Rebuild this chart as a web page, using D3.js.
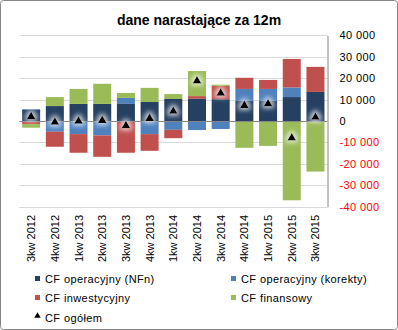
<!DOCTYPE html>
<html>
<head>
<meta charset="utf-8">
<script src="https://cdn.jsdelivr.net/npm/d3@7"></script>
<style>
  html, body { margin: 0; padding: 0; background: #fff; }
  svg { display: block; font-family: "Liberation Sans", Arial, sans-serif; }
</style>
</head>
<body>
<svg id="chart" width="398" height="330"></svg>
<script>
const categories = ["3kw 2012","4kw 2012","1kw 2013","2kw 2013","3kw 2013","4kw 2013","1kw 2014","2kw 2014","3kw 2014","4kw 2014","1kw 2015","2kw 2015","3kw 2015"];
const cfNfn     = [5200, 7000, 8000, 8000, 8000, 8900, 10300, 10400, 10200, 9400, 9400, 11200, 13600];
const cfKorekty = [400, -5000, -6100, -6700, 2800, -6100, -4100, -4200, -3700, 5600, 5600, 4500, -500];
const cfInw     = [-1400, -7000, -8700, -10000, -14800, -7800, -3900, 1250, 6200, 5200, 4200, 13300, 11700];
const cfFin     = [-1700, 4200, 7000, 9400, 2300, 6600, 2300, 11700, 600, -12500, -11600, -37000, -23100];
const cfTotal   = [2300, -300, 200, 500, -1900, 1500, 4800, 19000, 13300, 7500, 8300, -7600, 2000];
const yTicks = [40000, 30000, 20000, 10000, 0, -10000, -20000, -30000, -40000];

const seriesNames = ["CF operacyjny (NFn)", "CF operacyjny (korekty)", "CF inwestycyjny", "CF finansowy"];
const seriesColors = ["#254061", "#4F81BD", "#C0504D", "#9BBB59"];
const seriesData = [cfNfn, cfKorekty, cfInw, cfFin];

const svg = d3.select("#chart");
const plot = { left: 19.3, right: 327.3, top: 35.4, bottom: 206.7 };

// outer border
svg.append("rect").attr("x", 0.5).attr("y", 0.5).attr("width", 397).attr("height", 329)
  .attr("rx", 3).attr("fill", "#fff").attr("stroke", "#868686");

// title
svg.append("text").attr("x", 199).attr("y", 25).attr("text-anchor", "middle")
  .attr("font-size", 14).attr("font-weight", "bold").attr("fill", "#000")
  .text("dane narastające za 12m");

const x = d3.scaleBand().domain(categories).range([plot.left, plot.right])
  .paddingInner(0.24).paddingOuter(0.12);
const y = d3.scaleLinear().domain([-40000, 40000]).range([plot.bottom, plot.top]);

// gridlines
svg.append("g").selectAll("line").data(yTicks.filter(d => d !== 0)).join("line")
  .attr("x1", plot.left).attr("x2", plot.right)
  .attr("y1", d => Math.round(y(d)) + 0.5).attr("y2", d => Math.round(y(d)) + 0.5)
  .attr("stroke", "#D9D9D9").attr("stroke-width", 1);

// stacked data
const table = categories.map((c, i) => {
  const o = { cat: c };
  seriesNames.forEach((s, k) => { o[s] = seriesData[k][i]; });
  return o;
});
const stacked = d3.stack().keys(seriesNames).offset(d3.stackOffsetDiverging)(table);

svg.append("g").selectAll("g").data(stacked).join("g")
  .attr("fill", (d, i) => seriesColors[i])
  .selectAll("rect").data(d => d).join("rect")
  .attr("x", d => x(d.data.cat))
  .attr("width", x.bandwidth())
  .attr("y", d => y(Math.max(d[0], d[1])))
  .attr("height", d => Math.abs(y(d[0]) - y(d[1])));

// zero line
svg.append("line").attr("x1", plot.left).attr("x2", plot.right)
  .attr("y1", Math.round(y(0)) + 0.5).attr("y2", Math.round(y(0)) + 0.5)
  .attr("stroke", "#868686").attr("stroke-width", 1);

// right axis
const yAxis = d3.axisRight(y).tickValues(yTicks).tickSize(0).tickPadding(12)
  .tickFormat(d => d3.format(",")(d).replace(/,/g, " ").replace("−", "-"));
const ag = svg.append("g").attr("transform", `translate(${Math.round(plot.right) + 0.5},0)`).call(yAxis);
ag.select(".domain").attr("stroke", "#868686");
ag.selectAll("text").attr("font-size", 11).attr("letter-spacing", "0.4px")
  .attr("font-family", "'Liberation Sans', Arial, sans-serif")
  .attr("fill", d => d < 0 ? "#FF0000" : "#000");

// x labels
svg.append("g").selectAll("text").data(categories).join("text")
  .attr("transform", d => `translate(${x(d) + x.bandwidth() / 2 + 4},215) rotate(-90)`)
  .attr("text-anchor", "end").attr("font-size", 11)
  .attr("fill", "#000").text(d => d);

// glow filter
const defs = svg.append("defs");
const f = defs.append("filter").attr("id", "glow").attr("x", "-100%").attr("y", "-100%")
  .attr("width", "300%").attr("height", "300%");
f.append("feMorphology").attr("in", "SourceAlpha").attr("operator", "dilate").attr("radius", 2).attr("result", "dil");
f.append("feGaussianBlur").attr("in", "dil").attr("stdDeviation", 2.4).attr("result", "blur");
f.append("feFlood").attr("flood-color", "#ffffff").attr("flood-opacity", 0.75).attr("result", "fl");
f.append("feComposite").attr("in", "fl").attr("in2", "blur").attr("operator", "in").attr("result", "g");
const fm = f.append("feMerge");
fm.append("feMergeNode").attr("in", "g");
fm.append("feMergeNode").attr("in", "SourceGraphic");

const tri = d3.symbol().type(d3.symbolTriangle).size(34);
svg.append("g").selectAll("path").data(categories).join("path")
  .attr("d", tri)
  .attr("transform", (d, i) => `translate(${x(d) + x.bandwidth() / 2},${y(cfTotal[i]) + 0.5})`)
  .attr("fill", "#000").attr("filter", "url(#glow)");

// legend
const legendItems = [
  { name: seriesNames[0], color: seriesColors[0], lx: 35, ly: 276 },
  { name: seriesNames[1], color: seriesColors[1], lx: 231, ly: 276 },
  { name: seriesNames[2], color: seriesColors[2], lx: 35, ly: 295 },
  { name: seriesNames[3], color: seriesColors[3], lx: 231, ly: 295 }
];
const lg = svg.append("g");
legendItems.forEach(it => {
  lg.append("rect").attr("x", it.lx).attr("y", it.ly).attr("width", 5).attr("height", 5).attr("fill", it.color);
  lg.append("text").attr("x", it.lx + 10).attr("y", it.ly + 7).attr("font-size", 11)
    .attr("letter-spacing", "0.4px").attr("fill", "#000").text(it.name);
});
lg.append("path").attr("d", d3.symbol().type(d3.symbolTriangle).size(18))
  .attr("transform", "translate(37.5,316)").attr("fill", "#000");
lg.append("text").attr("x", 45).attr("y", 322).attr("font-size", 11)
  .attr("letter-spacing", "0.4px").attr("fill", "#000").text("CF ogółem");
</script>
</body>
</html>
